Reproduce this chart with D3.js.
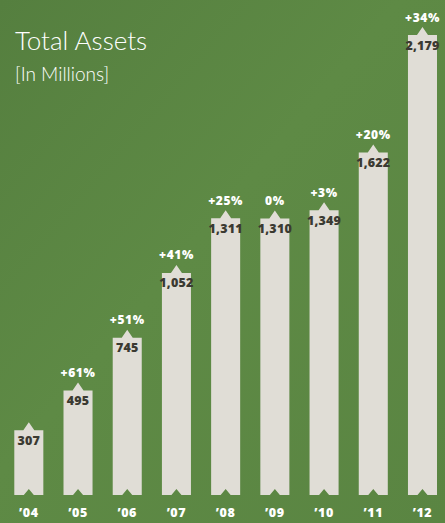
<!DOCTYPE html>
<html>
<head>
<meta charset="utf-8">
<script src="https://cdn.jsdelivr.net/npm/d3@7"></script>
<style>
  html, body { margin: 0; padding: 0; background: #5c8744; }
  svg { display: block; }
</style>
</head>
<body>
<svg id="chart" width="445" height="523"></svg>
<script>
var years = ["\u201904", "\u201905", "\u201906", "\u201907", "\u201908", "\u201909", "\u201910", "\u201911", "\u201912"];
var assets = [307, 495, 745, 1052, 1311, 1310, 1349, 1622, 2179];
var growth = ["", "+61%", "+51%", "+41%", "+25%", "0%", "+3%", "+20%", "+34%"];

var svg = d3.select("#chart"),
    width = +svg.attr("width"),
    height = +svg.attr("height");

// background
var defs = svg.append("defs");
var grad = defs.append("linearGradient").attr("id", "bg")
    .attr("x1", "0").attr("y1", "0").attr("x2", "1").attr("y2", "1");
grad.append("stop").attr("offset", "0%").attr("stop-color", "#557f3f");
grad.append("stop").attr("offset", "45%").attr("stop-color", "#5e8a45");
grad.append("stop").attr("offset", "100%").attr("stop-color", "#5a8542");
svg.append("rect").attr("width", width).attr("height", height).attr("fill", "url(#bg)");

var x = d3.scaleBand()
    .domain(years)
    .range([14.3, 437])
    .paddingInner(0.41)
    .paddingOuter(0);

var y = d3.scaleLinear()
    .domain([0, 2179])
    .range([495, 35]);

var bw = x.bandwidth();

function barPath(d, i) {
  var x0 = x(years[i]), x1 = x0 + bw, cx = x0 + bw / 2,
      top = y(d), bot = y(0);
  return "M" + x0 + "," + top +
    "L" + (cx - 5.5) + "," + top +
    "L" + cx + "," + (top - 8) +
    "L" + (cx + 5.5) + "," + top +
    "L" + x1 + "," + top +
    "L" + x1 + "," + bot +
    "L" + (cx + 5) + "," + bot +
    "L" + cx + "," + (bot - 6) +
    "L" + (cx - 5) + "," + bot +
    "L" + x0 + "," + bot + "Z";
}

svg.append("g").selectAll("path")
  .data(assets)
  .enter().append("path")
    .attr("d", barPath)
    .attr("fill", "#e0ddd6");

svg.append("g").selectAll("text")
  .data(assets)
  .enter().append("text")
    .attr("x", function(d, i) { return x(years[i]) + bw / 2; })
    .attr("y", function(d) { return y(d) + 14.5; })
    .attr("text-anchor", "middle")
    .style("font-family", "'Open Sans', sans-serif")
    .style("font-weight", "800")
    .style("font-size", "12.5px")
    .style("letter-spacing", "0.2px")
    .style("fill", "#3b3a32")
    .text(function(d) { return d3.format(",")(d); });

svg.append("g").selectAll("text")
  .data(growth)
  .enter().append("text")
    .attr("x", function(d, i) { return x(years[i]) + bw / 2; })
    .attr("y", function(d, i) { return y(assets[i]) - 13.5; })
    .attr("text-anchor", "middle")
    .style("font-family", "'Open Sans', sans-serif")
    .style("font-weight", "800")
    .style("font-size", "12px")
    .style("letter-spacing", "0.6px")
    .style("fill", "#ffffff")
    .text(function(d) { return d; });

svg.append("g").selectAll("text")
  .data(years)
  .enter().append("text")
    .attr("x", function(d) { return x(d) + bw / 2; })
    .attr("y", 517)
    .attr("text-anchor", "middle")
    .style("font-family", "'Open Sans', sans-serif")
    .style("font-weight", "800")
    .style("font-size", "12.5px")
    .style("letter-spacing", "0.6px")
    .style("fill", "#ffffff")
    .text(function(d) { return d; });

svg.append("text")
  .attr("x", 15)
  .attr("y", 50)
  .style("font-family", "Lato, sans-serif")
  .style("font-weight", "300")
  .style("font-size", "26px")
  .style("fill", "#ffffff")
  .text("Total Assets");

svg.append("text")
  .attr("x", 15)
  .attr("y", 81)
  .style("font-family", "Lato, sans-serif")
  .style("font-weight", "300")
  .style("font-size", "19px")
  .style("fill", "#ffffff")
  .text("[In Millions]");
</script>
</body>
</html>
